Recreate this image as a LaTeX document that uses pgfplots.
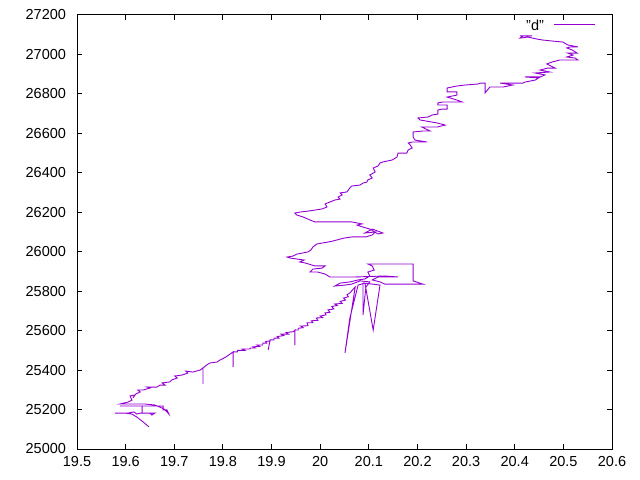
\documentclass[border=0pt]{standalone}
\usepackage{pgfplots}
\pgfplotsset{compat=1.18}
\usepackage{fontspec}
\setmainfont{Liberation Sans}
\definecolor{gpurple}{RGB}{148,0,211}

\begin{document}
\fontsize{14.5bp}{17bp}\selectfont
\begin{tikzpicture}
\useasboundingbox (0,0) rectangle (640bp,480bp);
\begin{axis}[
    at={(77bp,31bp)}, anchor=south west,
    scale only axis, width=535bp, height=434bp,
    xmin=19.5, xmax=20.6, ymin=25000, ymax=27200,
    xtick={19.5,19.6,19.7,19.8,19.9,20,20.1,20.2,20.3,20.4,20.5,20.6},
    ytick={25000,25200,25400,25600,25800,26000,26200,26400,26600,26800,27000,27200},
    scaled y ticks=false, scaled x ticks=false,
    /pgf/number format/assume math mode=true,
    /pgf/number format/set thousands separator={},
    tick align=inside, major tick length=5bp,
    axis line style={line width=1bp},
    major tick style={line width=1bp, black},
    yticklabel style={xshift=-6bp},
    xticklabel style={yshift=-2bp},
    legend plot pos=right,
    legend image code/.code={\draw[#1] (0bp,2bp) -- (41bp,2bp);},
    legend style={draw=none, fill=none, at={(rel axis cs:1,1)}, anchor=north east,
        xshift=-13bp, yshift=-1bp, column sep=8bp},
]
\addplot[gpurple, line width=0.9bp, mark=none] coordinates {
(19.648,25112)(19.636,25137)(19.623,25162)(19.613,25177)(19.599,25182)(19.578,25182)(19.605,25182)(19.617,25188)(19.623,25177)(19.630,25182)(19.642,25182)(19.660,25182)(19.654,25172)(19.650,25182)(19.634,25182)(19.634,25218)(19.619,25218)(19.588,25218)(19.613,25218)(19.650,25218)(19.677,25218)(19.677,25198)(19.685,25198)(19.689,25177)(19.679,25203)(19.660,25223)(19.640,25228)(19.609,25228)(19.588,25228)(19.605,25238)(19.613,25248)(19.609,25269)(19.619,25274)(19.615,25259)(19.621,25279)(19.630,25289)(19.625,25299)(19.636,25299)(19.650,25309)(19.644,25314)(19.664,25314)(19.671,25324)(19.681,25324)(19.675,25335)(19.691,25340)(19.695,25350)(19.706,25360)(19.701,25370)(19.716,25375)(19.728,25385)(19.724,25395)(19.738,25390)(19.753,25400)(19.759,25411)(19.759,25329)(19.759,25411)(19.767,25426)(19.773,25436)(19.788,25441)(19.794,25451)(19.806,25466)(19.815,25482)(19.821,25492)(19.821,25416)(19.821,25492)
(19.830,25492)(19.830,25500)(19.845,25500)(19.840,25507)(19.856,25507)(19.856,25512)(19.866,25512)(19.862,25518)(19.875,25520)(19.870,25527)(19.882,25527)(19.882,25537)(19.890,25537)(19.888,25545)(19.897,25548)(19.897,25553)(19.893,25502)(19.897,25553)(19.905,25553)(19.905,25562)(19.915,25562)(19.912,25570)(19.925,25575)(19.920,25582)(19.935,25582)(19.930,25590)(19.945,25595)(19.948,25603)(19.948,25527)(19.948,25603)
(19.955,25603)(19.955,25612)(19.965,25615)(19.960,25623)(19.975,25625)(19.973,25640)(19.985,25640)(19.982,25650)(19.995,25652)(19.992,25664)(20.005,25666)(20.000,25674)(20.012,25680)(20.010,25690)(20.020,25693)(20.016,25705)(20.028,25710)(20.024,25722)(20.035,25728)(20.030,25735)(20.045,25738)(20.041,25748)(20.052,25755)(20.048,25765)(20.058,25772)(20.055,25782)(20.061,25791)
(20.072,25821)(20.051,25487)(20.061,25664)(20.078,25831)(20.092,25841)(20.109,25603)(20.123,25831)(20.107,25836)(20.088,25841)(20.088,25679)(20.094,25821)(20.102,25847)(20.082,25852)(20.065,25836)(20.051,25831)(20.030,25826)(20.041,25841)(20.061,25847)(20.078,25857)(20.092,25862)(20.102,25877)(20.098,25897)(20.111,25907)(20.107,25928)(20.098,25938)(20.154,25938)(20.191,25938)(20.191,25852)(20.211,25836)(20.160,25836)(20.133,25836)(20.123,25847)(20.107,25857)(20.119,25872)(20.160,25872)(20.133,25877)(20.072,25872)(20.020,25872)(20.010,25887)(19.995,25897)(19.979,25897)(19.985,25912)(20.004,25917)(20.010,25928)(19.989,25928)(19.969,25943)(19.958,25948)(19.967,25958)(19.952,25963)(19.938,25968)(19.932,25973)(19.944,25978)(19.952,25988)(19.965,25994)(19.975,25999)(19.981,26009)(19.985,26024)(19.993,26039)(20.004,26044)(20.016,26049)(20.026,26054)(20.041,26064)(20.051,26070)(20.065,26075)(20.094,26075)(20.107,26085)(20.113,26100)(20.092,26095)(20.107,26115)(20.129,26095)(20.119,26090)(20.102,26115)(20.088,26125)(20.076,26135)(20.086,26141)(20.065,26151)(20.041,26151)(20.010,26151)(19.989,26151)(19.979,26161)(19.965,26176)(19.952,26186)(19.948,26196)(19.958,26201)(19.975,26206)(19.989,26211)(20.004,26217)(20.014,26227)(20.010,26242)(20.020,26252)(20.030,26262)(20.041,26267)(20.037,26277)(20.045,26288)(20.041,26298)(20.055,26303)(20.061,26323)(20.065,26333)(20.082,26338)(20.088,26348)(20.096,26353)(20.098,26364)(20.107,26374)(20.102,26389)(20.113,26404)(20.109,26424)(20.119,26435)(20.123,26450)(20.129,26455)(20.148,26465)(20.158,26480)(20.160,26500)(20.178,26500)(20.181,26516)(20.189,26526)(20.185,26541)(20.181,26551)(20.189,26556)(20.220,26556)(20.195,26566)(20.191,26582)(20.191,26607)(20.211,26612)(20.226,26612)(20.209,26632)(20.240,26632)(20.257,26642)(20.240,26653)(20.205,26668)(20.201,26678)(20.222,26683)(20.230,26693)(20.242,26698)(20.242,26718)(20.250,26723)(20.261,26723)(20.261,26744)(20.242,26744)(20.242,26754)(20.252,26759)(20.292,26759)(20.281,26769)(20.261,26784)(20.271,26789)(20.281,26794)(20.281,26810)(20.261,26810)(20.261,26830)(20.281,26840)(20.298,26845)(20.324,26850)(20.329,26855)(20.339,26855)(20.339,26805)(20.349,26835)(20.376,26835)(20.396,26845)(20.370,26855)(20.417,26855)(20.421,26860)(20.442,26870)(20.452,26886)(20.421,26886)(20.448,26881)(20.462,26896)(20.442,26906)(20.472,26911)(20.452,26921)(20.468,26931)(20.483,26931)(20.466,26952)(20.477,26962)(20.493,26972)(20.530,26972)(20.524,26982)(20.507,26987)(20.520,26997)(20.509,27007)(20.528,27007)(20.518,27023)(20.507,27033)(20.514,27038)(20.530,27038)(20.509,27048)(20.499,27063)(20.477,27068)(20.458,27073)(20.446,27078)(20.427,27088)(20.411,27083)(20.417,27094)(20.436,27094)(20.411,27094)
};
\addlegendentry{"d"}
\end{axis}
\end{tikzpicture}
\end{document}
